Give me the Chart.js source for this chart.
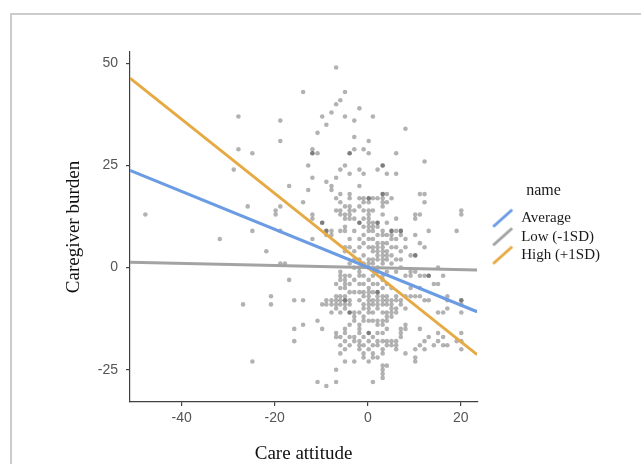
<!DOCTYPE html>
<html>
<head>
<meta charset="utf-8">
<script src="https://cdn.jsdelivr.net/npm/chart.js@4.4.1/dist/chart.umd.min.js"></script>
<style>
  html, body { margin: 0; padding: 0; background: #fff; }
  #wrap { position: relative; width: 641px; height: 464px; overflow: hidden; }
  #frame { position: absolute; left: 10px; top: 13px; width: 800px; height: 600px; border: 2px solid #cccccc; }
  canvas { position: absolute; left: 0; top: 0; }
</style>
</head>
<body>
<div id="wrap">
  <div id="frame"></div>
  <canvas id="c" width="641" height="464"></canvas>
</div>
<script>
// ---- Data ----
// Scatter points grouped by care-attitude column: colX[i] holds the x value, colY[i] the burden values
const colX = [-47.8, -31.8, -28.8, -27.8, -26.8, -25.8, -24.8, -21.8, -20.8, -19.8,
              -18.8, -17.8, -16.9, -15.8, -13.9, -12.8, -11.9, -10.8, -9.8, -8.9,
              -7.8, -6.8, -5.9, -4.9, -3.9, -2.9, -1.8, -0.9, 0.2, 1.1,
              2.1, 3.2, 4.1, 5.1, 6.1, 7.1, 8.1, 9.2, 10.2, 11.2,
              12.2, 13.1, 14.2, 15.1, 16.2, 17.1, 19.1, 20.1];
const colY = [
  [13], [7], [24], [29, 37], [-9], [15], [28, 9, -23], [4], [-7, -9], [14, 13],
  [36, 31, 15, 9, 1], [1], [20, -3], [-8, -15, -18], [43, 16, -8, -14], [25, 19],
  [29, 28, 28, 22, 13, 12, 7], [33, 28, -13, -28], [37, 11, 11, -9, -15],
  [35, 21, 9, 9, 8, -8, -9, -29],
  [38, 20, 19, 9, 8, -8, -9, -11],
  [49, 40, 22, 17, 14, -4, -7, -8, -9, -10, -16, -17, -25, -28],
  [41, 24, 18, 16, 14, 13, 9, -1, -2, -3, -5, -7, -8, -9, -11, -17, -19, -21],
  [43, 37, 25, 15, 13, 12, 10, 9, 5, 4, -2, -3, -4, -5, -7, -8, -8, -9, -10, -15, -16, -18, -20, -23],
  [28, 28, 23, 18, 17, 15, 14, 13, 12, 7, 5, 1, -2, -4, -6, -8, -9, -11, -11, -14, -17, -19],
  [36, 32, 29, 14, 12, 9, 4, 2, 0, -3, -6, -11, -12, -13, -17, -18, -23],
  [39, 24, 20, 17, 15, 11, 11, 7, 5, 2, 0, -1, -2, -4, -6, -8, -11, -14, -15, -16, -18, -19, -20],
  [29, 23, 17, 16, 14, 12, 10, 8, 6, 3, 1, -2, -4, -6, -7, -9, -10, -12, -13, -17, -19, -21, -22],
  [31, 28, 17, 17, 16, 14, 13, 12, 11, 10, 9, 7, 5, 2, 1, 0, -3, -5, -6, -7, -8, -9, -10, -11, -13, -16, -16, -18, -20, -23],
  [37, 17, 14, 11, 10, 9, 7, 5, 4, 2, 1, -2, -4, -6, -8, -9, -11, -13, -17, -19, -21, -22, -28],
  [24, 17, 11, 11, 10, 8, 6, 5, 4, 3, 2, 0, -1, -4, -6, -6, -7, -8, -9, -10, -13, -14, -16, -18, -19, -22],
  [25, 25, 18, 18, 17, 16, 15, 13, 9, 8, 6, 5, 4, 3, 2, 1, -2, -3, -5, -7, -8, -9, -11, -13, -14, -16, -18, -20, -21, -24, -25, -26, -27],
  [23, 18, 16, 11, 8, 6, 4, 3, 2, -1, -4, -7, -8, -9, -11, -12, -13, -15, -18, -19, -24],
  [17, 9, 9, 8, 7, 5, 3, 1, -5, -8, -9, -10, -11, -12, -18, -19],
  [28, 23, 12, 9, 7, 5, 2, -1, -7, -8, -10, -11, -18, -19, -20],
  [9, 9, 8, 4, 2, 0, -8, -9, -15, -16, -17],
  [34, 7, 5, -2, -7, -10, -14, -15, -21],
  [3, -1, -2, -5, -7],
  [13, 12, 8, 3, 3, -1, -7, -20, -22, -23],
  [18, 13, 6, -2, -5, -7, -15, -19],
  [26, 18, 16, 5, -2, -8, -18, -20],
  [9, -2, -2, -8, -17],
  [-4, -19],
  [0, -4, -11, -16, -18],
  [-2, -11, -17, -19],
  [-7, -8, -10, -19],
  [9, -18],
  [14, 13, -8, -8, -9, -11, -16, -18, -20]
];

// Simple-slope lines: value at left edge and right edge of the x range
const lineNames  = ['Average', 'Low (-1SD)', 'High (+1SD)'];
const lineColors = ['#6b9be3', '#a3a3a3', '#e6aa45'];
const lineXEnds  = [-51.1, 23.5];
const lineYLeft  = [23.8, 1.3, 46.4];
const lineYRight = [-10.8, -0.6, -21.3];

// Axis ticks / ranges
const xTicks = [-40, -20, 0, 20];
const yTicks = [-25, 0, 25, 50];
const xRange = [-51.1, 23.5];
const yRange = [-32.9, 52.8];

// ---- Build datasets ----
const points = [];
colX.forEach((x, i) => colY[i].forEach(y => points.push({ x: x, y: y })));

function glyph(color) {
  const cv = document.createElement('canvas');
  cv.width = 34; cv.height = 20;
  const g = cv.getContext('2d');
  g.strokeStyle = color; g.lineWidth = 3; g.lineCap = 'butt';
  g.beginPath(); g.moveTo(13, 18.5); g.lineTo(32, 1.5); g.stroke();
  return cv;
}

const datasets = [{
  label: 'points',
  data: points,
  backgroundColor: 'rgba(0,0,0,0.3)',
  borderWidth: 0,
  pointRadius: 2.3,
  order: 10
}];
lineNames.forEach((name, i) => {
  datasets.push({
    type: 'line',
    label: name,
    data: [{ x: lineXEnds[0], y: lineYLeft[i] }, { x: lineXEnds[1], y: lineYRight[i] }],
    borderColor: lineColors[i],
    backgroundColor: lineColors[i],
    borderWidth: 3,
    pointRadius: 0,
    tension: 0,
    fill: false,
    order: 1
  });
});

const serif = "'Liberation Serif', 'Times New Roman', serif";
const sans = "'Liberation Sans', Arial, sans-serif";

new Chart(document.getElementById('c'), {
  type: 'scatter',
  data: { datasets: datasets },
  options: {
    responsive: false,
    devicePixelRatio: 1,
    animation: false,
    layout: { padding: { left: 62, right: 31, top: 52, bottom: 0 } },
    plugins: {
      tooltip: { enabled: false },
      legend: {
        position: 'right',
        align: 'start',
        title: { display: true, text: 'name', color: '#1a1a1a', font: { family: serif, size: 16 }, padding: { top: 131, bottom: 5 } },
        labels: {
          usePointStyle: true,
          pointStyleWidth: 33,
          boxHeight: 15,
          padding: 3.5,
          color: '#1a1a1a',
          font: { family: serif, size: 15 },
          filter: item => item.datasetIndex > 0,
          generateLabels: chart => chart.data.datasets.map((ds, i) => ({
            text: ds.label,
            datasetIndex: i,
            pointStyle: i > 0 ? glyph(ds.borderColor) : 'circle',
            fillStyle: ds.backgroundColor,
            strokeStyle: ds.borderColor,
            lineWidth: 0,
            hidden: false,
            fontColor: '#1a1a1a'
          }))
        }
      }
    },
    scales: {
      x: {
        type: 'linear',
        min: xRange[0], max: xRange[1],
        afterBuildTicks: s => { s.ticks = xTicks.map(v => ({ value: v })); },
        afterFit: s => { s.height = 62; },
        grid: { display: true, drawOnChartArea: false, drawTicks: true, tickLength: 4, color: '#404040', lineWidth: 1.2 },
        border: { display: true, color: '#404040', width: 1.2 },
        ticks: { color: '#555555', font: { family: sans, size: 14 }, padding: 4, maxRotation: 0 },
        title: { display: true, text: 'Care attitude', color: '#111', font: { family: serif, size: 19, lineHeight: 1 }, padding: { top: 0, bottom: 0 } }
      },
      y: {
        type: 'linear',
        min: yRange[0], max: yRange[1],
        afterBuildTicks: s => { s.ticks = yTicks.map(v => ({ value: v })); },
        afterFit: s => { s.width = 68; },
        grid: { display: true, drawOnChartArea: false, drawTicks: true, tickLength: 4, color: '#404040', lineWidth: 1.2 },
        border: { display: true, color: '#404040', width: 1.2 },
        ticks: { color: '#555555', font: { family: sans, size: 14 }, padding: 8 },
        title: { display: true, text: 'Caregiver burden', color: '#111', font: { family: serif, size: 19, lineHeight: 1 }, padding: { top: 2.5, bottom: 0 } }
      }
    }
  }
});
</script>
</body>
</html>
